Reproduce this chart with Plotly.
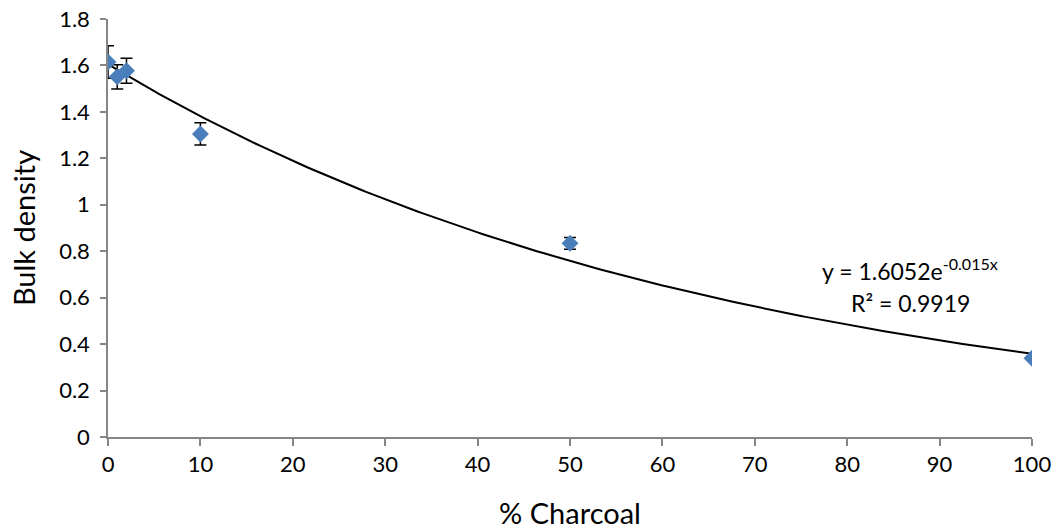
import numpy as np
import plotly.graph_objects as go

charcoal_pct = [0, 1, 2, 10, 50, 100]
bulk_density = [1.615, 1.551, 1.577, 1.305, 0.834, 0.339]
bulk_err = [0.07, 0.052, 0.054, 0.048, 0.025, 0.008]

fit_a = 1.6052
fit_b = -0.015
r_squared = 0.9919

x_fit = np.linspace(0, 100, 201)
y_fit = fit_a * np.exp(fit_b * x_fit)

FONT = "Lato, Calibri, Carlito, sans-serif"

fig = go.Figure()
fig.add_trace(go.Scatter(
    x=x_fit, y=y_fit, mode="lines",
    line=dict(color="black", width=2), hoverinfo="skip", showlegend=False,
))
fig.add_trace(go.Scatter(
    x=charcoal_pct, y=bulk_density, mode="markers",
    marker=dict(symbol="diamond", size=13, color="#4a7ebb"),
    error_y=dict(type="data", array=bulk_err, visible=True,
                 color="black", thickness=1.5, width=6),
    showlegend=False,
))

fig.add_annotation(x=86.8, y=0.722, xref="x", yref="y",
                   text=f"y = {fit_a}e<sup>{fit_b}x</sup>", showarrow=False,
                   font=dict(family=FONT, size=23, color="black"))
fig.add_annotation(x=86.8, y=0.575, xref="x", yref="y",
                   text=f"R² = {r_squared}", showarrow=False,
                   font=dict(family=FONT, size=23, color="black"))

fig.update_layout(
    width=1063, height=530,
    margin=dict(l=108, r=31, t=19, b=93),
    paper_bgcolor="white", plot_bgcolor="white",
    font=dict(family=FONT, size=22, color="black"),
)
fig.update_xaxes(
    range=[0, 100], tickvals=list(range(0, 101, 10)),
    showline=True, linecolor="#868686", linewidth=1.5,
    ticks="outside", ticklen=7, tickcolor="#868686", tickwidth=1.5,
    showgrid=False, zeroline=False, automargin=False,
    ticklabeloverflow="allow",
    title=dict(text="% Charcoal", font=dict(family=FONT, size=29), standoff=28),
    tickfont=dict(family=FONT, size=22),
)
fig.update_yaxes(
    range=[0, 1.8], tickvals=[0, 0.2, 0.4, 0.6, 0.8, 1, 1.2, 1.4, 1.6, 1.8],
    ticktext=["0", "0.2", "0.4", "0.6", "0.8", "1", "1.2", "1.4", "1.6", "1.8"],
    showline=True, linecolor="#868686", linewidth=1.5,
    ticks="outside", ticklen=6, tickcolor="#868686", tickwidth=1.5,
    showgrid=False, zeroline=False, automargin=False,
    ticklabeloverflow="allow", ticklabelstandoff=6,
    title=dict(text="Bulk density", font=dict(family=FONT, size=29), standoff=15),
    tickfont=dict(family=FONT, size=22),
)

fig.write_html(
    "out.html",
    config={"displayModeBar": False},
    post_script="document.body.style.margin='0';document.body.style.overflow='hidden';",
)
